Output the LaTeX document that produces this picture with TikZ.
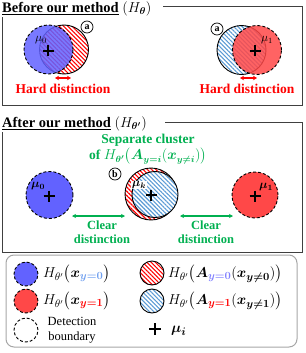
\documentclass[tikz,border=0pt]{standalone}
\usepackage{amsmath}
\usepackage{amssymb}
\usepackage{bm}
\usepackage{fontspec}
\setmainfont{Liberation Serif}
\usetikzlibrary{arrows, arrows.meta, patterns.meta}

\definecolor{clsblue}{HTML}{6262FF}
\definecolor{clsred}{HTML}{FF4848}
\definecolor{hatchblue}{HTML}{5B9BD5}
\definecolor{txtgreen}{HTML}{00B050}
\definecolor{lblblue}{HTML}{6F9FEF}

\tikzset{
  bluedot/.style={draw=black, dashed, dash pattern=on 3pt off 2pt, line width=0.9pt, fill=clsblue, fill opacity=0.85},
  reddot/.style={draw=black, dashed, dash pattern=on 3pt off 2pt, line width=0.9pt, fill=clsred, fill opacity=0.85},
  emptydot/.style={draw=black, dashed, dash pattern=on 3pt off 2pt, line width=0.9pt},
  redhatch/.style={draw=black, line width=0.9pt, preaction={fill=white},
    pattern={Lines[angle=-45, distance=3pt, line width=1.1pt]}, pattern color=red},
  bluehatch/.style={draw=black, line width=0.9pt, preaction={fill=white},
    pattern={Lines[angle=-45, distance=3pt, line width=1.1pt]}, pattern color=hatchblue},
  plusline/.style={draw=black, line width=2pt},
  mulabel/.style={inner sep=0.5pt, font=\fontsize{12}{12}\selectfont},
  tag/.style={circle, draw=black, line width=0.7pt, minimum size=12pt, inner sep=0pt, fill=white, font=\bfseries\fontsize{10}{10}\selectfont},
  headline/.style={anchor=base west, inner sep=0pt, font=\bfseries\fontsize{14.5}{17}\selectfont},
  frameline/.style={draw=black!75, line width=0.9pt},
  hardtext/.style={text=red, font=\bfseries\fontsize{13.5}{16}\selectfont},
  cleartext/.style={text=txtgreen, align=center, font=\bfseries\fontsize{12.5}{14}\selectfont},
  hardarrow/.style={red, line width=1.4pt, {Stealth[length=4pt, width=4.5pt]}-{Stealth[length=4pt, width=4.5pt]}},
  cleararrow/.style={txtgreen, line width=1.1pt, {Stealth[length=4pt, width=4pt]}-{Stealth[length=4pt, width=4pt]}},
  legtext/.style={anchor=west, inner sep=0pt, font=\fontsize{15}{17}\selectfont}
}

\begin{document}
\begin{tikzpicture}[x=1pt, y=-1pt]
  \useasboundingbox (0,0) rectangle (305,353);

  % Coordinates
  \coordinate (hR0) at (64,49.5);
  \coordinate (cB0) at (48.5,49.5);
  \coordinate (hB1) at (241.5,50);
  \coordinate (cR1) at (257,50);
  \coordinate (mB0) at (49.5,195);
  \coordinate (mR) at (151,194);
  \coordinate (mB) at (155,194.5);
  \coordinate (mR1) at (255,195);
  \coordinate (p0) at (48,51);
  \coordinate (p1) at (255,51);
  \coordinate (p2) at (49,196);
  \coordinate (pk) at (151,195);
  \coordinate (p3) at (255,196);
  \coordinate (pl) at (155,329);

  % Before our method
  \node[headline] (t1) at (2,12.5) {\underline{Before our method} \mdseries$(H_{\bm{\theta}})$};
  \coordinate (f1s) at (163,6);
  \coordinate (f1c) at (302,105);
  \coordinate (f1e) at (2,17);
  \draw[frameline] (f1s) -| (f1c) -| (f1e);

  \draw[redhatch] (hR0) circle (24.5pt);
  \draw[bluedot] (cB0) circle (24.5pt);
  \draw[plusline] (p0) +(-5.5,0) -- +(5.5,0) (p0) +(0,-5.5) -- +(0,5.5);
  \node[mulabel] (u0) at (41,40) {$\mu_0$};
  \node[tag] (a0) at (87,27) {a};
  \coordinate (h0a) at (55,78);
  \coordinate (h0b) at (71,78);
  \draw[hardarrow] (h0a) -- (h0b);
  \node[hardtext] (d0) at (63,88.5) {Hard distinction};

  \draw[bluehatch] (hB1) circle (24.5pt);
  \draw[reddot] (cR1) circle (24.5pt);
  \draw[plusline] (p1) +(-5.5,0) -- +(5.5,0) (p1) +(0,-5.5) -- +(0,5.5);
  \node[mulabel] (u1) at (267,40) {$\mu_1$};
  \node[tag] (a1) at (217,29) {a};
  \coordinate (h1a) at (240,78);
  \coordinate (h1b) at (257,78);
  \draw[hardarrow] (h1a) -- (h1b);
  \node[hardtext] (d1) at (247,88.5) {Hard distinction};

  % After our method
  \node[headline] (t2) at (2,127) {\underline{After our method} \mdseries$(H_{\bm{\theta'}})$};
  \coordinate (f2s) at (165,122.5);
  \coordinate (f2c) at (302,252);
  \coordinate (f2e) at (2,132);
  \draw[frameline] (f2s) -| (f2c) -| (f2e);

  \node[cleartext, inner sep=0.5pt, font=\bfseries\fontsize{13.5}{16.5}\selectfont] (sep) at (148,149.5)
    {Separate cluster\\of $H_{\bm{\theta'}}\big(\bm{A}_{\bm{y=i}}(\bm{x}_{\bm{y\neq i}})\big)$};

  \draw[bluedot, fill opacity=1] (mB0) circle (23.5pt);
  \draw[plusline] (p2) +(-5.5,0) -- +(5.5,0) (p2) +(0,-5.5) -- +(0,5.5);
  \node[mulabel] (u2) at (38,186) {$\bm{\mu_0}$};

  \draw[redhatch] (mR) circle (26pt);
  \draw[bluehatch] (mB) circle (23pt);
  \node[mulabel, fill=white] (uk) at (139,185) {$\bm{\mu_k}$};
  \draw[plusline] (pk) +(-5.5,0) -- +(5.5,0) (pk) +(0,-5.5) -- +(0,5.5);
  \node[tag] (b) at (115,174) {b};

  \draw[reddot, fill opacity=1] (mR1) circle (23pt);
  \draw[plusline] (p3) +(-5.5,0) -- +(5.5,0) (p3) +(0,-5.5) -- +(0,5.5);
  \node[mulabel] (u3) at (266,187) {$\bm{\mu_1}$};

  \coordinate (g0a) at (72,216);
  \coordinate (g0b) at (125,216);
  \coordinate (g1a) at (180,216);
  \coordinate (g1b) at (233,216);
  \draw[cleararrow] (g0a) -- (g0b);
  \draw[cleararrow] (g1a) -- (g1b);
  \node[cleartext] (c0) at (102,232) {Clear\\distinction};
  \node[cleartext] (c1) at (206,232) {Clear\\distinction};

  % Legend
  \coordinate (lg1) at (6,255);
  \coordinate (lg2) at (297,347);
  \draw[draw=black!35, line width=1pt, rounded corners=8pt] (lg1) rectangle (lg2);

  \draw[bluedot, fill opacity=1] (26,274) circle (12pt);
  \node[legtext] (l1) at (43,274) {$H_{\theta'}\big(\bm{x}_{\color{lblblue}\bm{y=0}}\big)$};
  \draw[reddot, fill opacity=1] (26,301) circle (12pt);
  \node[legtext] (l2) at (43,301) {$H_{\theta'}\big(\bm{x}_{\color{red}\bm{y=1}}\big)$};
  \draw[emptydot] (26,330) circle (12pt);
  \node[legtext, anchor=center, align=center, font=\fontsize{12.5}{15}\selectfont] (l3) at (72,330) {Detection\\boundary};

  \draw[redhatch] (152,273) circle (12pt);
  \node[legtext] (l4) at (168,274) {$H_{\theta'}\big(\bm{A}_{\color{clsblue!80}\bm{y=0}}(\bm{x}_{\bm{y\neq 0}})\big)$};
  \draw[bluehatch] (152,301) circle (12pt);
  \node[legtext] (l5) at (168,301) {$H_{\theta'}\big(\bm{A}_{\color{red}\bm{y=1}}(\bm{x}_{\bm{y\neq 1}})\big)$};
  \draw[plusline] (pl) +(-6,0) -- +(6,0) (pl) +(0,-6) -- +(0,6);
  \node[legtext] (l7) at (171,331) {$\bm{\mu_i}$};
\end{tikzpicture}
\end{document}
